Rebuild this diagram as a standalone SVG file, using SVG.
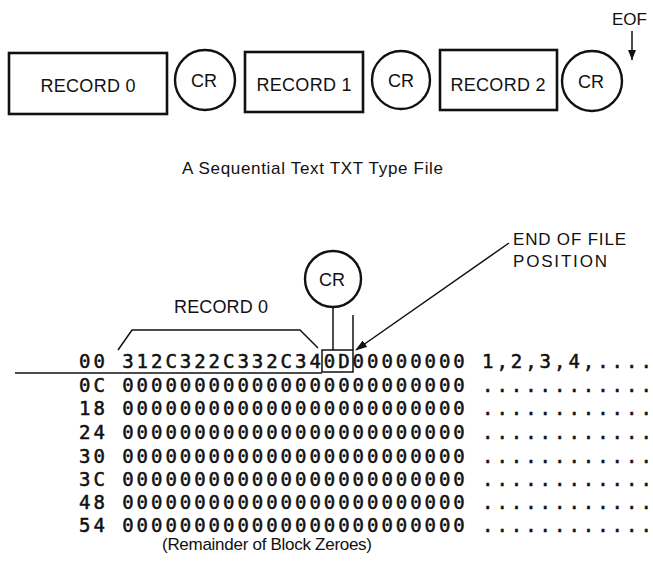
<svg xmlns="http://www.w3.org/2000/svg" width="653" height="581" viewBox="0 0 653 581">
<defs>
<style>
.box{fill:none;stroke:#111;stroke-width:2.6}
.circ{fill:none;stroke:#111;stroke-width:2.4}
.lbl{font-family:"Liberation Sans",Arial,sans-serif;font-size:18px;fill:#111;text-anchor:middle}
.cap{font-family:"Liberation Sans",Arial,sans-serif;font-size:17px;fill:#111}
.hex{font-family:"DejaVu Sans Mono","Liberation Mono",monospace;font-size:19px;letter-spacing:2.96px;fill:#111;stroke:#111;stroke-width:0.5}
.asc{font-family:"DejaVu Sans Mono","Liberation Mono",monospace;font-size:19px;fill:#111;stroke:#111;stroke-width:0.5}
.ln{fill:none;stroke:#111;stroke-width:1.5}
</style>
<marker id="ah" markerWidth="12" markerHeight="8" refX="11" refY="4" orient="auto" markerUnits="userSpaceOnUse">
<path d="M0,0 L12,4 L0,8 Z" fill="#111"/>
</marker>
<marker id="ahs" markerWidth="10" markerHeight="8" refX="10" refY="4" orient="auto" markerUnits="userSpaceOnUse">
<path d="M0,0 L10,4 L0,8 Z" fill="#111"/>
</marker>
</defs>
<rect width="653" height="581" fill="#fff"/>

<g id="record0">
<rect class="box" x="9" y="53" width="158" height="61"/>
<text class="lbl" x="88" y="92" textLength="95">RECORD 0</text>
</g>
<g id="cr1">
<circle class="circ" cx="205" cy="80" r="30"/>
<text class="lbl" x="204" y="87">CR</text>
</g>
<g id="record1">
<rect class="box" x="245" y="52" width="118" height="60"/>
<text class="lbl" x="304" y="91" textLength="95">RECORD 1</text>
</g>
<g id="cr2">
<circle class="circ" cx="401" cy="80" r="29"/>
<text class="lbl" x="401" y="87">CR</text>
</g>
<g id="record2">
<rect class="box" x="440" y="50" width="117" height="60"/>
<text class="lbl" x="498" y="91" textLength="95">RECORD 2</text>
</g>
<g id="cr3">
<circle class="circ" cx="592" cy="81" r="30"/>
<text class="lbl" x="591" y="88">CR</text>
</g>
<g id="eof">
<text class="cap" x="612" y="25" font-size="16">EOF</text>
</g>

<text class="cap" x="182" y="174" textLength="261">A Sequential Text TXT Type File</text>

<g id="cr-bottom">
<circle class="circ" cx="333" cy="279" r="28" stroke-width="2"/>
<text class="lbl" x="332" y="286">CR</text>
</g>
<g id="record0-label">
<text class="lbl" x="221" y="313" textLength="94">RECORD 0</text>
</g>
<g id="eof-position">
<text class="cap" x="513" y="245" textLength="113">END OF FILE</text>
<text class="cap" x="513" y="267" textLength="94">POSITION</text>
</g>

<g id="connectors">
<line class="ln" x1="632" y1="31" x2="632" y2="60" marker-end="url(#ahs)"/>
<polyline class="ln" points="118,350 132,330 300,330 318,348"/>
<line class="ln" x1="333" y1="307" x2="333" y2="350"/>
<line class="ln" x1="353" y1="315" x2="353" y2="350"/>
<rect class="ln" x="322" y="350" width="31" height="22"/>
<line class="ln" x1="509" y1="243" x2="356" y2="350" marker-end="url(#ah)"/>
<line class="ln" x1="15" y1="373" x2="322" y2="373"/>
</g>

<g id="dump">
<text class="hex" x="79" y="368">00 312C322C332C340D00000000</text>
<text class="hex" x="79" y="392">0C 000000000000000000000000</text>
<text class="hex" x="79" y="415">18 000000000000000000000000</text>
<text class="hex" x="79" y="439">24 000000000000000000000000</text>
<text class="hex" x="79" y="463">30 000000000000000000000000</text>
<text class="hex" x="79" y="486">3C 000000000000000000000000</text>
<text class="hex" x="79" y="509">48 000000000000000000000000</text>
<text class="hex" x="79" y="532">54 000000000000000000000000</text>
<text class="asc" x="482 496.4 510.8 525.2 539.6 554 568.4 582.8 597.2 611.6 626 640.4" y="368">1,2,3,4,....</text>
<text class="asc" x="482 496.4 510.8 525.2 539.6 554 568.4 582.8 597.2 611.6 626 640.4" y="392">............</text>
<text class="asc" x="482 496.4 510.8 525.2 539.6 554 568.4 582.8 597.2 611.6 626 640.4" y="415">............</text>
<text class="asc" x="482 496.4 510.8 525.2 539.6 554 568.4 582.8 597.2 611.6 626 640.4" y="439">............</text>
<text class="asc" x="482 496.4 510.8 525.2 539.6 554 568.4 582.8 597.2 611.6 626 640.4" y="463">............</text>
<text class="asc" x="482 496.4 510.8 525.2 539.6 554 568.4 582.8 597.2 611.6 626 640.4" y="486">............</text>
<text class="asc" x="482 496.4 510.8 525.2 539.6 554 568.4 582.8 597.2 611.6 626 640.4" y="509">............</text>
<text class="asc" x="482 496.4 510.8 525.2 539.6 554 568.4 582.8 597.2 611.6 626 640.4" y="532">............</text>
</g>
<text class="cap" x="162" y="550" textLength="210">(Remainder of Block Zeroes)</text>
</svg>
